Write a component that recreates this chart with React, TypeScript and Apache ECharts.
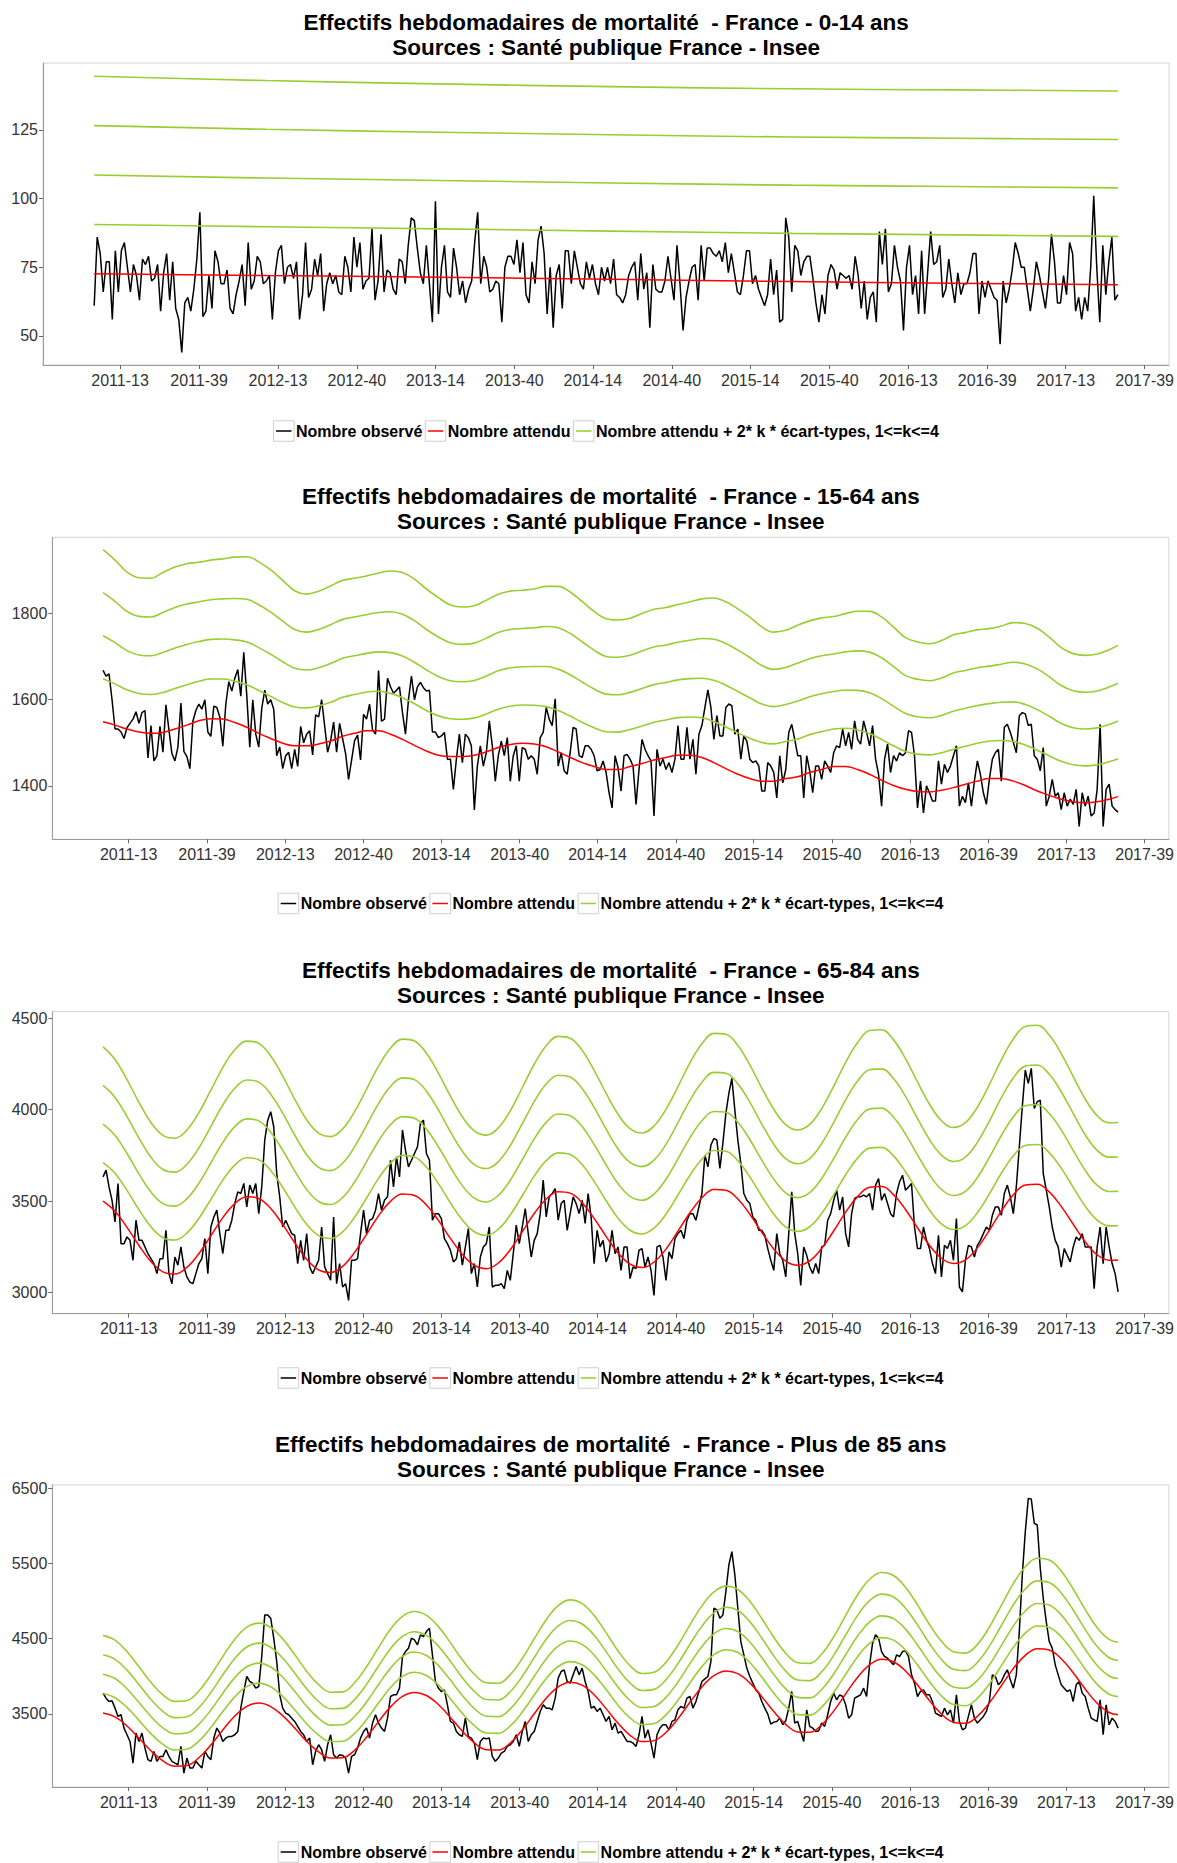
import React, { useEffect, useRef } from "react";
import * as echarts from "echarts";

const FONT = '"Liberation Sans", Arial, Helvetica, sans-serif';
const DAY_MS = 86400000;
const WEEK_MS = 7 * DAY_MS;
const START_MS = Date.UTC(2011, 0, 31);

const SUBTITLE = "Sources : Santé publique France - Insee";
const TITLES = [
  "Effectifs hebdomadaires de mortalité  - France - 0-14 ans",
  "Effectifs hebdomadaires de mortalité  - France - 15-64 ans",
  "Effectifs hebdomadaires de mortalité  - France - 65-84 ans",
  "Effectifs hebdomadaires de mortalité  - France - Plus de 85 ans",
];
const NAME_OBS = "Nombre observé";
const NAME_EXP = "Nombre attendu";
const NAME_ENV = "Nombre attendu + 2* k * écart-types, 1<=k<=4";

const TICK_DATES = [
  "2011-04-01", "2011-10-01", "2012-04-01", "2012-10-01", "2013-04-01", "2013-10-01", "2014-04-01",
  "2014-10-01", "2015-04-01", "2015-10-01", "2016-04-01", "2016-10-01", "2017-04-01", "2017-10-01",
];
const TICK_LABELS = [
  "2011-13", "2011-39", "2012-13", "2012-40", "2013-14", "2013-40", "2014-14",
  "2014-40", "2015-14", "2015-40", "2016-13", "2016-39", "2017-13", "2017-39",
];

const Y_TICKS_014 = [50, 75, 100, 125];
const Y_TICKS_1564 = [1400, 1600, 1800];
const Y_TICKS_6584 = [3000, 3500, 4000, 4500];
const Y_TICKS_85 = [3500, 4500, 5500, 6500];

// Observed weekly deaths (week 0 = 2011-01-31)
const OBS_014 = [
  61, 86, 80, 66, 77, 77, 56, 81, 66, 81, 84, 75, 66, 76, 72, 63, 78, 76, 79, 70,
  71, 76, 59, 73, 80, 63, 77, 60, 56, 44, 62, 64, 59, 67, 78, 95, 57, 59, 72, 60,
  81, 77, 69, 69, 74, 60, 58, 65, 70, 76, 61, 84, 67, 70, 79, 77, 69, 70, 72, 56,
  73, 81, 83, 69, 75, 76, 71, 77, 56, 65, 84, 64, 67, 78, 72, 80, 59, 69, 73, 69,
  72, 66, 65, 79, 75, 66, 86, 75, 84, 67, 70, 71, 89, 63, 70, 87, 66, 74, 73, 67,
  65, 78, 77, 69, 83, 93, 92, 82, 73, 69, 83, 69, 55, 99, 58,
  75, 83, 66, 64, 82, 75, 65, 70, 62, 67, 70, 84, 95, 69, 79, 75, 66, 67, 70, 69,
  55, 75, 79, 79, 76, 85, 73, 84, 65, 62, 77, 69, 85, 90, 80, 58, 75, 53, 72, 76,
  60, 81, 81, 69, 81, 75, 69, 67, 77, 71, 76, 69, 65, 75, 70, 75, 69, 78, 65,
  64, 62, 65, 72, 75, 77, 63, 80, 67, 73, 53, 76, 67, 66, 66, 70, 79, 71, 63, 83,
  69, 52, 64, 70, 75, 76, 63, 83, 70, 82, 82, 80, 79, 81, 77, 84, 73, 80, 73, 66,
  65, 72, 81, 81, 69, 72, 67, 64, 61, 65, 78, 65, 74, 55, 56, 93, 86,
  66, 83, 81, 72, 77, 79, 79, 71, 62, 55, 65, 58, 72, 76, 74, 67, 73, 72, 71, 72,
  67, 79, 72, 60, 70, 56, 64, 66, 55, 88, 76, 89, 66, 69, 83, 75, 70, 52, 75,
  83, 65, 72, 58, 81, 58, 73, 88, 76, 77, 83, 64, 67, 78, 69, 62, 73, 65, 69, 69,
  73, 80, 80, 58, 70, 64, 70, 67, 64, 63, 47, 70, 62, 67, 74, 84, 80, 75, 75, 67,
  59, 67, 77, 72, 66, 60, 70, 87, 77, 62, 62, 72, 65, 84, 80, 59, 64, 56, 64, 59,
  75, 101, 75, 55, 83, 65, 77, 86, 63, 65,
];

const OBS_1564 = [
  1668, 1655, 1660, 1600, 1532, 1532, 1525, 1510, 1535, 1545, 1555, 1572, 1545, 1570, 1575, 1465, 1540, 1458, 1470, 1538,
  1478, 1588, 1530, 1475, 1458, 1490, 1592, 1480, 1468, 1440, 1550, 1575, 1590, 1578, 1600, 1525, 1515, 1585, 1582, 1560,
  1492, 1590, 1642, 1620, 1650, 1670, 1608, 1710, 1610, 1490, 1600, 1520, 1490, 1580, 1622, 1590, 1600, 1578, 1470, 1490,
  1440, 1470, 1478, 1440, 1485, 1445, 1538, 1500, 1520, 1528, 1472, 1565, 1560, 1600, 1540, 1478, 1505, 1548, 1478, 1545,
  1510, 1475, 1415, 1460, 1505, 1518, 1460, 1566, 1555, 1590, 1530, 1520, 1668, 1550, 1555, 1650, 1630, 1615, 1622, 1630,
  1570, 1520, 1600, 1655, 1600, 1630, 1640, 1628, 1620, 1622, 1525, 1525, 1512,
  1516, 1524, 1462, 1462, 1392, 1462, 1520, 1454, 1520, 1512, 1493, 1344, 1446, 1493, 1446, 1477, 1551, 1493, 1411, 1470,
  1504, 1470, 1512, 1411, 1470, 1493, 1411, 1489, 1485, 1462, 1470, 1462, 1427, 1512, 1524, 1582, 1555, 1540, 1602, 1446,
  1477, 1435, 1427, 1477, 1536, 1532, 1470, 1466, 1493, 1493, 1485, 1470, 1435, 1438, 1458, 1431, 1384, 1349, 1470, 1442,
  1388, 1470, 1473, 1462, 1446, 1357, 1438, 1508, 1485, 1470, 1458, 1330, 1485, 1446, 1462, 1438, 1454, 1431, 1462, 1540,
  1462, 1462, 1536, 1462, 1508, 1427, 1520, 1540, 1582, 1623, 1582, 1508, 1563, 1516, 1516, 1582, 1590, 1586, 1520, 1532,
  1462, 1516, 1504, 1462, 1454, 1458, 1446, 1388, 1388, 1454, 1446, 1431, 1372, 1470, 1407, 1438, 1524,
  1543, 1508, 1470, 1470, 1372, 1470, 1435, 1384, 1446, 1446, 1415, 1458, 1446, 1431, 1477, 1493, 1489, 1532, 1493, 1524,
  1485, 1551, 1508, 1497, 1551, 1524, 1493, 1540, 1462, 1427, 1353, 1462, 1497, 1431, 1470, 1458, 1477, 1470, 1477, 1528,
  1524, 1470, 1349, 1411, 1337, 1400, 1384, 1365, 1365, 1458, 1404, 1450, 1431, 1446, 1470, 1493, 1353, 1376, 1361, 1407,
  1353, 1411, 1458, 1427, 1384, 1357, 1415, 1462, 1477, 1485, 1411, 1536, 1543, 1524, 1501, 1477, 1563, 1570, 1567, 1540,
  1543, 1470, 1462, 1435, 1489, 1353, 1376, 1415, 1376, 1384, 1345, 1384, 1353, 1369, 1357, 1392, 1306, 1384, 1353, 1376,
  1330, 1337, 1392, 1543, 1306, 1392, 1404, 1353, 1345, 1339,
];

const OBS_6584 = [
  3633, 3670, 3578, 3505, 3387, 3597, 3268, 3268, 3305, 3286, 3177, 3396, 3286, 3286, 3250, 3213, 3186, 3159, 3104, 3186,
  3186, 3341, 3104, 3049, 3195, 3150, 3250, 3140, 3086, 3058, 3049, 3104, 3159, 3186, 3296, 3104, 3359, 3414, 3451, 3323,
  3214, 3341, 3341, 3396, 3487, 3551, 3542, 3597, 3469, 3588, 3542, 3597, 3432, 3578, 3834, 3943, 3989, 3907, 3651, 3524,
  3359, 3396, 3359, 3323, 3314, 3159, 3286, 3177, 3323, 3141, 3104, 3141, 3177, 3359, 3141, 3104, 3068, 3414, 3049, 3159,
  3031, 3049, 2958, 3177, 3177, 3186, 3323, 3451, 3323, 3396, 3405, 3451, 3542, 3451, 3505, 3524, 3724, 3578, 3743, 3633,
  3889, 3779, 3688, 3724, 3761, 3797, 3925, 3943, 3761, 3724, 3396, 3432, 3432,
  3405, 3296, 3268, 3232, 3168, 3186, 3277, 3150, 3250, 3350, 3104, 3159, 3031, 3195, 3250, 3268, 3359, 3031, 3040, 3040,
  3049, 3022, 3122, 3067, 3213, 3369, 3268, 3359, 3460, 3323, 3195, 3286, 3323, 3432, 3615, 3414, 3524, 3542, 3569, 3396,
  3487, 3505, 3341, 3432, 3524, 3487, 3432, 3505, 3378, 3542, 3414, 3159, 3341, 3250, 3286, 3168, 3213, 3341, 3213, 3250,
  3122, 3250, 3250, 3077, 3140, 3131, 3232, 3241, 3140, 3195, 3122, 2985, 3250, 3259, 3195, 3067, 3223, 3186, 3296, 3323,
  3341, 3296, 3396, 3432, 3432, 3396, 3469, 3542, 3752, 3688, 3807, 3843, 3834, 3679, 3816, 3980, 4089, 4172, 3998, 3834,
  3706, 3542, 3505, 3487, 3414, 3396, 3341, 3341, 3314, 3241, 3177, 3122, 3323, 3213, 3177, 3086, 3323,
  3551, 3323, 3213, 3040, 3250, 3204, 3140, 3104, 3159, 3104, 3250, 3259, 3396, 3432, 3505, 3560, 3451, 3524, 3323, 3250,
  3432, 3515, 3524, 3524, 3533, 3524, 3542, 3451, 3588, 3624, 3505, 3542, 3487, 3432, 3414, 3542, 3606, 3642, 3560, 3578,
  3597, 3359, 3241, 3241, 3359, 3286, 3241, 3159, 3104, 3314, 3086, 3259, 3241, 3286, 3177, 3405, 3031, 3004, 3177, 3259,
  3250, 3195, 3259, 3286, 3323, 3359, 3341, 3423, 3469, 3469, 3423, 3542, 3588, 3524, 3432, 3578, 3798, 4017, 4217, 4144,
  4226, 4007, 4044, 4053, 3651, 3560, 3469, 3359, 3286, 3250, 3140, 3241, 3204, 3168, 3250, 3305, 3286, 3323, 3250, 3250,
  3250, 3022, 3250, 3359, 3159, 3359, 3250, 3159, 3104, 3004,
];

const OBS_85 = [
  3775, 3708, 3664, 3673, 3575, 3465, 3487, 3310, 3221, 3132, 2844, 3243, 3132, 3243, 3044, 2889, 2867, 3000, 2867, 2933,
  2933, 3022, 2933, 2867, 2844, 2822, 3066, 2711, 2911, 2778, 2778, 2867, 2822, 2778, 3000, 2933, 2889, 3177, 3310, 3243,
  3132, 3177, 3199, 3199, 3221, 3265, 3575, 3797, 3996, 3930, 3908, 3841, 3863, 4262, 4816, 4816, 4771, 4506, 4196, 3753,
  3575, 3509, 3487, 3442, 3398, 3332, 3265, 3221, 3132, 3177, 2822, 3000, 3088, 3022, 2867, 3088, 3221, 2955, 2911, 2955,
  2946, 2911, 2711, 2933, 2955, 3044, 3177, 3265, 3310, 3177, 3376, 3487, 3376, 3310, 3265, 3442, 3730, 3753, 3753, 3841,
  4262, 4328, 4373, 4506, 4483, 4417, 4550, 4528, 4594, 4638, 4284, 3930, 3841,
  3797, 3819, 3620, 3398, 3376, 3265, 3221, 3199, 3442, 3199, 3177, 3110, 2889, 3132, 3177, 3168, 3177, 2933, 2867, 2911,
  2977, 3000, 3066, 3088, 3132, 3221, 3066, 3265, 3398, 3132, 3221, 3265, 3398, 3531, 3620, 3575, 3575, 3553, 3708, 3974,
  4063, 4085, 3930, 3908, 4018, 4129, 4018, 4107, 3930, 3797, 3575, 3597, 3531, 3575, 3487, 3398, 3465, 3287, 3376, 3243,
  3265, 3199, 3132, 3132, 3110, 3066, 3221, 3465, 3177, 3287, 3110, 2911, 3221, 3310, 3354, 3354, 3287, 3398, 3420, 3553,
  3597, 3575, 3708, 3730, 3575, 3664, 3797, 3930, 3965, 3996, 4196, 4904, 4882, 4771, 4816, 5126, 5480, 5657, 5347, 4904,
  4461, 4284, 4107, 3996, 3908, 3819, 3775, 3664, 3575, 3496, 3363, 3389, 3398, 3442, 3354, 3407, 3575,
  3797, 3376, 3398, 3265, 3132, 3553, 3332, 3310, 3265, 3274, 3376, 3332, 3487, 3664, 3775, 3686, 3753, 3730, 3620, 3442,
  3487, 3708, 3730, 3753, 3841, 3730, 4151, 4439, 4550, 4506, 4328, 4262, 4240, 4196, 4151, 4284, 4262, 4328, 4337, 4262,
  4018, 3908, 3730, 3797, 3819, 3753, 3753, 3664, 3509, 3487, 3465, 3575, 3487, 3553, 3376, 3753, 3398, 3287, 3310, 3465,
  3620, 3442, 3376, 3420, 3465, 3531, 3664, 4018, 3996, 3885, 3930, 4018, 4085, 3952, 3841, 4018, 4594, 5347, 5923, 6366,
  6357, 6034, 6012, 5436, 5037, 4727, 4461, 4373, 4151, 4018, 3885, 3841, 3797, 3819, 3664, 3885, 3930, 3775, 3730, 3575,
  3442, 3420, 3398, 3686, 3221, 3620, 3354, 3442, 3398, 3310,
];

// Expected counts and envelope step (2 x standard deviation), read at given week indices
const WEEKS_014 = [0, 57, 114, 171, 231, 285, 339];
const EXP_014 = [72.6, 72.0, 71.4, 70.6, 69.8, 69.2, 68.6];
const TWO_SD_014 = [18.0, 17.75, 17.6, 17.55, 17.55, 17.6, 17.65];

// every 4 weeks from week 0 to 336, then week 339
const WEEKS_4 = [
  0, 4, 8, 12, 16, 20, 24, 28, 32, 36, 40, 44, 48, 52, 56, 60, 64, 68, 72, 76, 80, 84, 88, 92, 96, 100,
  104, 108, 112, 116, 120, 124, 128, 132, 136, 140, 144, 148, 152, 156, 160, 164, 168, 172, 176, 180,
  184, 188, 192, 196, 200, 204, 208, 212, 216, 220, 224, 228, 232, 236, 240, 244, 248, 252, 256, 260,
  264, 268, 272, 276, 280, 284, 288, 292, 296, 300, 304, 308, 312, 316, 320, 324, 328, 332, 336, 339,
];

const EXP_1564 = [
  1549, 1541, 1532, 1525, 1522, 1524, 1532, 1541, 1551, 1556, 1555, 1547, 1536, 1522, 1510, 1499, 1493, 1493, 1497, 1504,
  1515, 1522, 1528, 1528, 1520, 1508, 1494, 1481, 1471, 1468, 1468, 1471, 1479, 1489, 1496, 1499, 1497, 1491, 1479, 1466,
  1454, 1445, 1438, 1438, 1445, 1452, 1460, 1466, 1471, 1471, 1466, 1454, 1440, 1427, 1417, 1411, 1411, 1417, 1421, 1431,
  1438, 1445, 1445, 1438, 1427, 1413, 1401, 1392, 1387, 1386, 1390, 1396, 1404, 1411, 1417, 1417, 1411, 1401, 1388, 1378,
  1369, 1363, 1361, 1363, 1369, 1375,
];
const TWO_SD_1564 = [
  99.8, 95.8, 91, 89.5, 90, 92.8, 94, 93.7, 92, 92, 93, 96, 99, 99.5, 97.8, 94.5, 90, 88, 88.7, 90,
  90.5, 90, 89.8, 91.5, 94.7, 96.8, 96.5, 94, 91.5, 88, 86.8, 86.8, 88, 89, 89, 88.8, 90, 93, 96, 96,
  93.5, 90, 87.5, 86.8, 86, 87, 87.5, 87, 87.5, 89, 92, 95.5, 96.8, 96, 93.7, 89.5, 86.5, 86, 88, 88,
  88, 87, 88.7, 91.8, 94.5, 94.8, 92, 88, 86.8, 86, 86.8, 88.7, 88, 87.8, 87, 88.5, 92, 94, 94.5, 91.8,
  88, 86, 85.5, 85.8, 86.8, 87.8,
];

const EXP_6584 = [
  3500, 3445, 3357, 3258, 3170, 3114, 3102, 3138, 3213, 3311, 3410, 3487, 3525, 3515, 3460, 3373, 3273, 3183, 3125, 3110,
  3144, 3220, 3319, 3420, 3499, 3539, 3531, 3479, 3395, 3297, 3209, 3149, 3131, 3162, 3235, 3333, 3433, 3512, 3552, 3544,
  3492, 3406, 3308, 3217, 3156, 3137, 3167, 3238, 3336, 3437, 3519, 3564, 3560, 3512, 3429, 3330, 3239, 3173, 3150, 3174,
  3242, 3337, 3440, 3525, 3576, 3580, 3536, 3455, 3355, 3259, 3188, 3159, 3179, 3245, 3341, 3446, 3535, 3588, 3593, 3551,
  3472, 3374, 3278, 3207, 3177, 3178,
];
const TWO_SD_6584 = [
  211, 207.5, 201.9, 195.6, 190, 186.4, 185.6, 187.9, 192.7, 199, 205.3, 210.2, 212.6, 212, 208.4, 202.8, 196.3, 190.5, 186.7, 185.8,
  187.9, 192.4, 198.5, 204.6, 209.4, 211.8, 211.2, 207.5, 201.4, 194.4, 188.1, 183.8, 182.5, 184.7, 189.8, 196.8, 203.9, 209.5, 212.3, 211.8,
  208.2, 202.4, 195.6, 189.5, 185.3, 184, 186, 191, 197.7, 204.7, 210.3, 213.4, 213.2, 209.8, 204.1, 197.2, 190.9, 186.4, 184.8, 186.4,
  191.1, 197.7, 204.7, 210.7, 214.2, 214.4, 211.5, 206, 199.2, 192.7, 188, 186, 187.5, 192.2, 199.1, 206.6, 213, 216.8, 217.2, 214.3,
  208.8, 201.9, 195.2, 190.2, 188, 188,
];

const EXP_85 = [
  3511, 3459, 3338, 3175, 3008, 2873, 2803, 2813, 2915, 3085, 3285, 3470, 3599, 3642, 3596, 3476, 3310, 3135, 2992, 2912,
  2916, 3015, 3188, 3396, 3592, 3732, 3784, 3743, 3623, 3452, 3268, 3114, 3023, 3018, 3111, 3286, 3500, 3707, 3859, 3921,
  3881, 3754, 3569, 3373, 3214, 3130, 3143, 3252, 3435, 3653, 3858, 4008, 4071, 4035, 3911, 3728, 3529, 3359, 3259, 3253,
  3352, 3536, 3764, 3986, 4152, 4225, 4193, 4069, 3883, 3676, 3498, 3388, 3374, 3465, 3645, 3873, 4101, 4278, 4367, 4349,
  4233, 4045, 3831, 3640, 3517, 3487,
];
const TWO_SD_85 = [
  258, 255, 247.5, 237.7, 227.7, 219.6, 215.4, 216, 222.2, 232.4, 244.5, 255.6, 263.4, 266, 263, 255.2, 244.5, 233.1, 223.8, 218.6,
  218.8, 224.5, 234.5, 246.6, 257.9, 266, 269, 266.5, 259.1, 248.7, 237.4, 228, 222.4, 222, 227.4, 237.3, 249.5, 261.3, 270, 273.5,
  271.1, 263.6, 252.6, 240.9, 231.4, 226.4, 227.2, 233.6, 244.4, 257.3, 269.4, 278.2, 282, 279.6, 271.7, 260, 247.3, 236.4, 230, 229.6,
  235.7, 246.9, 260.8, 274.3, 284.4, 288.9, 286.8, 278.7, 266.6, 253.2, 241.5, 234.4, 233.4, 239.6, 251.8, 267.2, 282.6, 294.6, 300.6, 299.4,
  291.5, 278.8, 264.3, 251.4, 243, 241,
];

const Y_RANGES = [
  [39.4, 149.4],
  [1276, 1977],
  [2885, 4536],
  [2526, 6544],
];

// ---------- layout & style ----------
const LAYOUT = {
  width: 1177,
  height: 1863,
  gridLeft: [43, 52.3, 52.3, 52.3],
  gridRight: 7.7,
  gridTop: [63, 537.3, 1011.7, 1485],
  gridHeight: 302,
  titleTop: [10, 484, 957.5, 1431.5],
  legendY: [431, 903.5, 1378, 1852],
};
const COLORS = { obs: "#000000", exp: "#ff0000", env: "#9acd32" };

function measureText(text: string, font: string): number {
  const c = document.createElement("canvas").getContext("2d");
  if (!c) return text.length * 9;
  c.font = font;
  return c.measureText(text).width;
}

function buildOption() {
  const panels = [
    { obs: OBS_014, weeks: WEEKS_014, exp: EXP_014, sd2: TWO_SD_014, yTicks: Y_TICKS_014 },
    { obs: OBS_1564, weeks: WEEKS_4, exp: EXP_1564, sd2: TWO_SD_1564, yTicks: Y_TICKS_1564 },
    { obs: OBS_6584, weeks: WEEKS_4, exp: EXP_6584, sd2: TWO_SD_6584, yTicks: Y_TICKS_6584 },
    { obs: OBS_85, weeks: WEEKS_4, exp: EXP_85, sd2: TWO_SD_85, yTicks: Y_TICKS_85 },
  ];
  const tickMs = TICK_DATES.map((d) => Date.parse(d + "T00:00:00Z"));
  const nWeeks = OBS_1564.length - 1;
  const span = nWeeks * WEEK_MS;
  const xMin = START_MS - 0.05 * span;
  const xMax = START_MS + span + 0.05 * span;
  const xLabel = (v: number) => {
    for (let i = 0; i < tickMs.length; i++) if (Math.abs(tickMs[i] - v) < DAY_MS) return TICK_LABELS[i];
    return "";
  };

  const grid: any[] = [];
  const xAxis: any[] = [];
  const yAxis: any[] = [];
  const series: any[] = [];
  const title: any[] = [];
  const graphic: any[] = [];

  const legendFont = `bold 16px ${FONT}`;
  const legendItems = [
    { name: NAME_OBS, color: COLORS.obs },
    { name: NAME_EXP, color: COLORS.exp },
    { name: NAME_ENV, color: COLORS.env },
  ];
  const widths = legendItems.map((it) => measureText(it.name, legendFont));
  const KEY = 20.5;
  const TXT_OFF = 22.5;
  const ITEM_GAP = 3;
  const legendTotal = widths.reduce((a, w) => a + TXT_OFF + w, 0) + ITEM_GAP * (legendItems.length - 1);

  panels.forEach((p, idx) => {
    const left = LAYOUT.gridLeft[idx];
    const top = LAYOUT.gridTop[idx];
    const plotRight = LAYOUT.width - LAYOUT.gridRight;
    const cx = (left + plotRight) / 2;

    grid.push({
      left,
      right: LAYOUT.gridRight,
      top,
      height: LAYOUT.gridHeight,
      show: true,
      borderColor: "#d4d4d4",
      borderWidth: 1,
      backgroundColor: "#ffffff",
    });
    xAxis.push({
      type: "value",
      gridIndex: idx,
      min: xMin,
      max: xMax,
      axisLine: { show: true, onZero: false, lineStyle: { color: "#9a9a9a", width: 1 } },
      axisTick: { show: true, customValues: tickMs, length: 4, lineStyle: { color: "#666666" } },
      axisLabel: {
        customValues: tickMs,
        formatter: xLabel,
        margin: 7,
        fontSize: 16,
        color: "#333333",
        fontFamily: FONT,
      },
      splitLine: { show: false },
    });
    yAxis.push({
      type: "value",
      gridIndex: idx,
      min: Y_RANGES[idx][0],
      max: Y_RANGES[idx][1],
      axisLine: { show: true, onZero: false, lineStyle: { color: "#9a9a9a", width: 1 } },
      axisTick: { show: true, customValues: p.yTicks, length: 4, lineStyle: { color: "#666666" } },
      axisLabel: {
        customValues: p.yTicks,
        formatter: (v: number) => String(Math.round(v)),
        margin: 5,
        fontSize: 16,
        color: "#333333",
        fontFamily: FONT,
      },
      splitLine: { show: false },
    });

    series.push({
      name: NAME_OBS,
      type: "line",
      xAxisIndex: idx,
      yAxisIndex: idx,
      symbol: "none",
      silent: true,
      lineStyle: { color: COLORS.obs, width: 1.5 },
      itemStyle: { color: COLORS.obs },
      data: p.obs.map((v, i) => [START_MS + i * WEEK_MS, v]),
      z: 2,
    });
    series.push({
      name: NAME_EXP,
      type: "line",
      xAxisIndex: idx,
      yAxisIndex: idx,
      symbol: "none",
      silent: true,
      smooth: 0.4,
      lineStyle: { color: COLORS.exp, width: 1.5 },
      itemStyle: { color: COLORS.exp },
      data: p.weeks.map((w, j) => [START_MS + w * WEEK_MS, p.exp[j]]),
      z: 3,
    });
    for (let k = 1; k <= 4; k++) {
      series.push({
        name: NAME_ENV,
        type: "line",
        xAxisIndex: idx,
        yAxisIndex: idx,
        symbol: "none",
        silent: true,
        smooth: 0.4,
        lineStyle: { color: COLORS.env, width: 1.6 },
        itemStyle: { color: COLORS.env },
        data: p.weeks.map((w, j) => [START_MS + w * WEEK_MS, p.exp[j] + k * p.sd2[j]]),
        z: 3,
      });
    }

    title.push({
      text: TITLES[idx] + "\n" + SUBTITLE,
      left: cx,
      top: LAYOUT.titleTop[idx],
      textAlign: "center",
      padding: 0,
      textStyle: {
        fontSize: 22.5,
        fontWeight: "bold",
        fontFamily: FONT,
        color: "#000000",
        lineHeight: 25,
      },
    });

    // legend (ggplot-style keys with grey boxes)
    const ly = LAYOUT.legendY[idx];
    let x = cx - legendTotal / 2;
    legendItems.forEach((it, j) => {
      graphic.push({
        type: "rect",
        silent: true,
        shape: { x: x, y: ly - KEY / 2, width: KEY, height: KEY },
        style: { fill: "#ffffff", stroke: "#cfcfcf", lineWidth: 1 },
      });
      graphic.push({
        type: "line",
        silent: true,
        shape: { x1: x + 2.5, y1: ly, x2: x + KEY - 2.5, y2: ly },
        style: { stroke: it.color, lineWidth: 1.5 },
      });
      graphic.push({
        type: "text",
        silent: true,
        x: x + TXT_OFF,
        y: ly,
        style: {
          text: it.name,
          fill: "#000000",
          fontSize: 16,
          fontWeight: "bold",
          fontFamily: FONT,
          align: "left",
          verticalAlign: "middle",
        },
      });
      x += TXT_OFF + widths[j] + ITEM_GAP;
    });
  });

  return {
    animation: false,
    backgroundColor: "#ffffff",
    title,
    grid,
    xAxis,
    yAxis,
    series,
    graphic,
  };
}

export default function App() {
  const ref = useRef<HTMLDivElement>(null);
  useEffect(() => {
    document.body.style.margin = "0";
    if (!ref.current) return;
    const chart = echarts.init(ref.current, null, { renderer: "svg" });
    chart.setOption(buildOption() as any);
    return () => {
      chart.dispose();
    };
  }, []);
  return <div ref={ref} style={{ width: LAYOUT.width, height: LAYOUT.height }} />;
}
